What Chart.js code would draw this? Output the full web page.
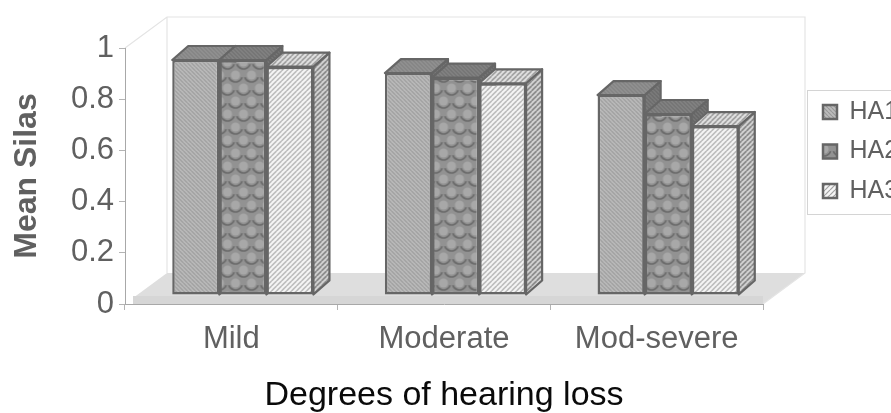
<!DOCTYPE html>
<html><head><meta charset="utf-8">
<style>html,body{margin:0;padding:0;background:#fff;overflow:hidden}#w{width:891px;height:413px;position:relative}canvas{filter:blur(0.45px)}</style>
<script src="https://cdn.jsdelivr.net/npm/chart.js@4"></script>
</head><body><div id="w"><canvas id="c" width="891" height="413"></canvas></div>
<script>
const categories = ['Mild', 'Moderate', 'Mod-severe'];
const ha1 = [0.918, 0.867, 0.781];
const ha2 = [0.918, 0.849, 0.707];
const ha3 = [0.892, 0.827, 0.66];
const seriesNames = ['HA1', 'HA2', 'HA3'];
const FONT = '"Liberation Sans", Arial, sans-serif';
const GREY = '#606060';
const EDGE = '#666666';

function tile(w, h, draw) {
  const c = document.createElement('canvas'); c.width = w; c.height = h;
  draw(c.getContext('2d'), w, h);
  return document.createElement('canvas').getContext('2d').createPattern(c, 'repeat');
}
function hatch(bg, fg, p, lw, dir) {
  return tile(p, p, (g, w, h) => {
    g.fillStyle = bg; g.fillRect(0, 0, w, h);
    g.strokeStyle = fg; g.lineWidth = lw;
    for (let i = -1; i <= 1; i++) {
      g.beginPath();
      if (dir > 0) { g.moveTo(i * p, h); g.lineTo(i * p + p, 0); }
      else { g.moveTo(i * p, 0); g.lineTo(i * p + p, h); }
      g.stroke();
    }
  });
}
function scales(bg, dark, light) {
  return tile(16, 26, (g, w, h) => {
    g.fillStyle = bg; g.fillRect(0, 0, w, h);
    const blob = (x, y) => {
      g.fillStyle = light; g.beginPath(); g.arc(x, y, 4.6, 0, 7); g.fill();
      g.strokeStyle = dark; g.lineWidth = 1.7;
      g.beginPath(); g.arc(x, y, 7, 0.1 * Math.PI, 0.9 * Math.PI); g.stroke();
    };
    [[8, -7], [0, 6], [16, 6], [8, 19], [0, 32], [16, 32]].forEach(p => blob(p[0], p[1]));
  });
}
const fronts = [hatch('#bcbcbc', '#989898', 4, 1.2, -1), scales('#929292', '#6c6c6c', '#a8a8a8'), hatch('#f6f6f6', '#a2a2a2', 5, 1.2, 1)];
const sides = [hatch('#7c7c7c', '#686868', 4, 1.2, -1), hatch('#777', '#606060', 4, 1.2, -1), hatch('#d4d4d4', '#777', 5, 1.4, 1)];
const tops = [hatch('#8f8f8f', '#7e7e7e', 4, 1, -1), hatch('#808080', '#6d6d6d', 4, 1, -1), hatch('#e2e2e2', '#8e8e8e', 5, 1.3, 1)];

const BAR_SHIFT = { x: 11.5, y: -9 };
const BAR_DEPTH = { x: 16, y: -14 };
const WALL_DEPTH = { x: 42, y: -31 };

function poly(ctx, pts, fill, stroke, lw) {
  ctx.beginPath();
  pts.forEach((p, i) => i ? ctx.lineTo(p[0], p[1]) : ctx.moveTo(p[0], p[1]));
  ctx.closePath();
  if (fill) { ctx.fillStyle = fill; ctx.fill(); }
  if (stroke) { ctx.strokeStyle = stroke; ctx.lineWidth = lw; ctx.lineJoin = 'round'; ctx.stroke(); }
}

const scene = {
  id: 'scene',
  afterLayout(chart) {
    const l = chart.legend;
    l.left = 808.5; l.right = 891; l.top = 85; l.bottom = 300;
  },
  beforeDraw(chart) {
    const { ctx, chartArea: a } = chart;
    const d = WALL_DEPTH;
    ctx.save();
    poly(ctx, [[a.left + 8, a.bottom - 6], [a.left + d.x, a.bottom + d.y], [a.right + d.x, a.bottom + d.y], [a.right, a.bottom], [a.left + 8, a.bottom]], '#dedede');
    ctx.fillStyle = '#d6d6d6'; ctx.fillRect(a.left + 8, a.bottom - 8, a.right - a.left - 8, 8);
    ctx.strokeStyle = '#e4e4e4'; ctx.lineWidth = 1.2;
    ctx.beginPath();
    ctx.moveTo(a.left, a.top); ctx.lineTo(a.left + d.x, a.top + d.y); ctx.lineTo(a.right + d.x, a.top + d.y);
    ctx.lineTo(a.right + d.x, a.bottom + d.y); ctx.lineTo(a.right, a.bottom);
    ctx.moveTo(a.left + d.x, a.top + d.y); ctx.lineTo(a.left + d.x, a.bottom + d.y);
    ctx.stroke();
    ctx.strokeStyle = '#d4d4d4'; ctx.lineWidth = 1;
    ctx.strokeRect(807.5, 90.5, 100, 124);
    ctx.restore();
  },
  beforeDatasetsDraw(chart) {
    const ctx = chart.ctx, e = BAR_DEPTH;
    ctx.save();
    ctx.translate(BAR_SHIFT.x, BAR_SHIFT.y);
    [0, 1, 2].forEach(i => chart.getDatasetMeta(i).data.forEach(b => {
      const L = b.x - b.width / 2, R = b.x + b.width / 2, T = b.y, B = b.base;
      poly(ctx, [[R, T], [R + e.x, T + e.y], [R + e.x, B + e.y], [R, B]], sides[i], EDGE, 2.2);
      poly(ctx, [[L, T], [L + e.x, T + e.y], [R + e.x, T + e.y], [R, T]], tops[i], EDGE, 2.2);
    }));
    ctx.restore();
  },
  beforeDatasetDraw(chart) {
    chart.ctx.save();
    chart.ctx.translate(BAR_SHIFT.x, BAR_SHIFT.y);
  },
  afterDatasetDraw(chart) { chart.ctx.restore(); }
};

const makeSet = (name, values, i) => ({
  label: name, data: values, backgroundColor: fronts[i], borderColor: EDGE, borderWidth: 2.5,
  borderSkipped: false, clip: false
});

new Chart(document.getElementById('c'), {
  type: 'bar',
  data: { labels: categories, datasets: [makeSet(seriesNames[0], ha1, 0), makeSet(seriesNames[1], ha2, 1), makeSet(seriesNames[2], ha3, 2)] },
  plugins: [scene],
  options: {
    responsive: false, animation: false,
    layout: { padding: { top: 48, right: 68, left: 0, bottom: 0 } },
    datasets: { bar: { categoryPercentage: 0.664, barPercentage: 1 } },
    plugins: {
      tooltip: { enabled: false },
      legend: {
        position: 'right', align: 'start', maxWidth: 60,
        labels: { boxWidth: 14, boxHeight: 14, padding: 14.5, color: GREY, font: { family: FONT, size: 25 } }
      }
    },
    scales: {
      x: {
        afterFit(s) { s.height = 109; },
        grid: { display: true, drawOnChartArea: false, tickLength: 6, color: '#b4b4b4', offset: true },
        border: { color: '#a8a8a8' },
        ticks: { color: GREY, font: { family: FONT, size: 31 }, padding: 11, maxRotation: 0, autoSkip: false },
        title: { display: true, text: 'Degrees of hearing loss', color: '#0a0a0a', font: { family: FONT, size: 34 }, padding: { top: 0, bottom: -3 } }
      },
      y: {
        min: 0, max: 1,
        afterFit(s) { s.width = 125; },
        grid: { display: true, drawOnChartArea: false, tickLength: 6, color: '#b4b4b4' },
        border: { color: '#a8a8a8' },
        ticks: { stepSize: 0.2, color: GREY, font: { family: FONT, size: 31 }, padding: 5, callback: v => String(Math.round(v * 10) / 10) },
        title: { display: true, text: 'Mean Silas', color: GREY, font: { family: FONT, size: 32, weight: 'bold' }, padding: { top: 8, bottom: 0 } }
      }
    }
  }
});
</script></body></html>
